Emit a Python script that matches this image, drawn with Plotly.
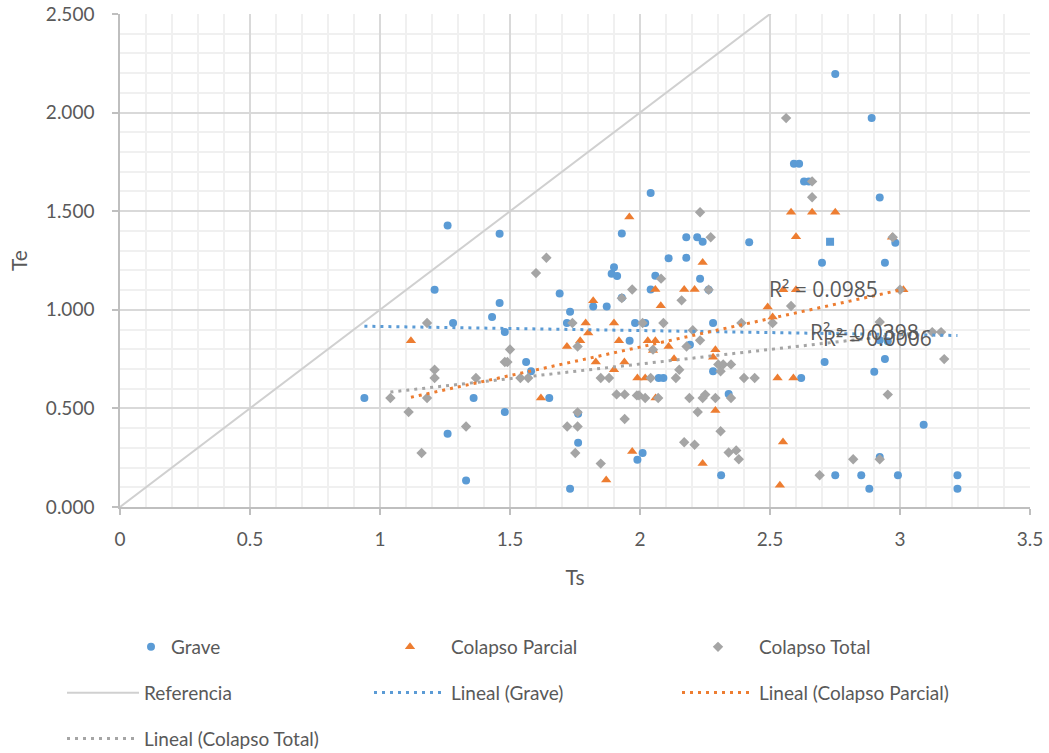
import plotly.graph_objects as go

# ---------------- data ----------------
grave_x = [0.940, 1.210, 1.260, 1.260, 1.281, 1.331, 1.360, 1.431, 1.460, 1.460,
           1.480, 1.480, 1.562, 1.581, 1.651, 1.691, 1.719, 1.731, 1.731, 1.762,
           1.762, 1.820, 1.872, 1.891, 1.900, 1.912, 1.930, 1.930, 1.960, 1.981,
           1.990, 2.010, 2.020, 2.041, 2.041, 2.059, 2.072, 2.090, 2.110, 2.178,
           2.178, 2.192, 2.220, 2.241, 2.231, 2.264, 2.281, 2.281, 2.312, 2.341,
           2.420, 2.592, 2.612, 2.631, 2.649, 2.620, 2.700, 2.710, 2.731, 2.751,
           2.751, 2.851, 2.882, 2.891, 2.901, 2.922, 2.922, 2.953, 2.942, 2.942,
           2.922, 2.982, 2.992, 3.091, 3.221, 3.221]
grave_y = [0.553, 1.102, 1.427, 0.372, 0.933, 0.135, 0.553, 0.963, 1.386, 1.034,
           0.887, 0.482, 0.735, 0.688, 0.553, 1.083, 0.933, 0.990, 0.093, 0.473,
           0.326, 1.017, 1.017, 1.183, 1.216, 1.171, 1.387, 1.061, 0.843, 0.933,
           0.240, 0.274, 0.933, 1.592, 1.103, 1.173, 0.654, 0.654, 1.261, 1.368,
           1.264, 0.823, 1.368, 1.345, 1.158, 1.102, 0.933, 0.688, 0.161, 0.573,
           1.343, 1.740, 1.740, 1.651, 1.651, 0.654, 1.239, 0.735, 1.345, 2.196,
           0.161, 0.161, 0.093, 1.972, 0.686, 1.570, 0.845, 0.841, 1.239, 0.750,
           0.253, 1.340, 0.161, 0.417, 0.161, 0.093]
grave_square_x = 2.731  # the one point drawn as a square marker

parcial_x = [1.119, 1.619, 1.719, 1.770, 1.791, 1.801, 1.820, 1.830, 1.870, 1.900,
             1.900, 1.919, 1.940, 1.959, 1.970, 1.990, 2.020, 2.030, 2.050, 2.059,
             2.059, 2.060, 2.080, 2.110, 2.131, 2.170, 2.210, 2.241, 2.241, 2.281,
             2.290, 2.290, 2.491, 2.510, 2.529, 2.538, 2.550, 2.551, 2.581, 2.590,
             2.600, 2.600, 2.662, 2.751, 2.969, 3.013]
parcial_y = [0.843, 0.553, 0.814, 0.843, 0.933, 0.882, 1.046, 0.735, 0.137, 0.933,
             0.696, 0.843, 0.735, 1.470, 0.282, 0.654, 0.654, 0.843, 0.794, 0.843,
             1.103, 0.553, 1.021, 0.814, 0.752, 1.103, 1.103, 1.240, 0.220, 0.760,
             0.798, 0.489, 1.014, 0.963, 0.654, 0.110, 0.330, 1.102, 1.495, 0.654,
             1.371, 1.102, 1.495, 1.495, 1.368, 1.102]

total_x = [1.040, 1.110, 1.160, 1.181, 1.181, 1.210, 1.210, 1.331, 1.369, 1.480,
           1.490, 1.500, 1.540, 1.570, 1.600, 1.640, 1.720, 1.740, 1.751, 1.760,
           1.760, 1.760, 1.849, 1.849, 1.881, 1.910, 1.930, 1.941, 1.941, 1.970,
           1.988, 1.996, 2.010, 2.020, 2.041, 2.050, 2.070, 2.081, 2.090, 2.138,
           2.151, 2.160, 2.170, 2.179, 2.190, 2.203, 2.210, 2.222, 2.231, 2.231,
           2.241, 2.251, 2.264, 2.272, 2.290, 2.301, 2.310, 2.310, 2.320, 2.341,
           2.350, 2.350, 2.370, 2.380, 2.390, 2.400, 2.441, 2.510, 2.562, 2.581,
           2.662, 2.662, 2.691, 2.820, 2.922, 2.922, 2.953, 2.972, 3.000, 3.124,
           3.158, 3.170]
total_y = [0.553, 0.482, 0.274, 0.933, 0.553, 0.696, 0.654, 0.408, 0.654, 0.735,
           0.735, 0.799, 0.654, 0.654, 1.186, 1.264, 0.408, 0.933, 0.274, 0.814,
           0.480, 0.408, 0.654, 0.220, 0.654, 0.571, 1.059, 0.571, 0.446, 1.103,
           0.566, 0.566, 0.933, 0.553, 0.654, 0.798, 0.553, 1.158, 0.933, 0.654,
           0.696, 1.048, 0.328, 0.814, 0.553, 0.896, 0.316, 0.482, 1.495, 0.845,
           0.553, 0.570, 1.102, 1.368, 0.553, 0.723, 0.688, 0.384, 0.723, 0.276,
           0.723, 0.553, 0.287, 0.242, 0.933, 0.654, 0.654, 0.933, 1.972, 1.019,
           1.651, 1.571, 0.161, 0.242, 0.938, 0.242, 0.570, 1.368, 1.102, 0.887,
           0.887, 0.750]

referencia_x = [0, 3.5]
referencia_y = [0, 3.5]

# linear trend coefficients (slope, intercept) and R²
trend_grave = (-0.0206, 0.936)
trend_parcial = (0.289, 0.233)
trend_total = (0.148, 0.429)
r2_labels = {"grave": "R² = 0.0006", "parcial": "R² = 0.0985", "total": "R² = 0.0398"}

x_ticks = [0, 0.5, 1, 1.5, 2, 2.5, 3, 3.5]
y_ticks = [0, 0.5, 1.0, 1.5, 2.0, 2.5]

# ---------------- styling ----------------
BLUE = "#5b9bd5"
ORANGE = "#ed7d31"
GRAY = "#a5a5a5"
TXT = "#595959"
FONT = "Lato"
LABEL_FONT = "Open Sans"

# plot area in pixels (figure 1049 x 753)
L, R, T, B = 120, 1030, 14, 507
PW, PH = R - L, B - T


def trend(xs, coef):
    lo, hi = min(xs), max(xs)
    return [lo, hi], [coef[0] * lo + coef[1], coef[0] * hi + coef[1]]


def px_to_paper_x(px):
    return (px - L) / PW


def py_to_paper_y(py):
    return (B - py) / PH


fig = go.Figure()

grave_symbols = ["square" if abs(x - grave_square_x) < 1e-9 else "circle" for x in grave_x]
fig.add_trace(go.Scatter(x=grave_x, y=grave_y, mode="markers", name="Grave",
                         marker=dict(color=BLUE, size=8, symbol=grave_symbols),
                         legend="legend4", legendgroup="g1"))
fig.add_trace(go.Scatter(x=parcial_x, y=parcial_y, mode="markers", name="Colapso Parcial",
                         marker=dict(color=ORANGE, size=9, symbol="triangle-up"),
                         legend="legend2", legendgroup="g2"))
fig.add_trace(go.Scatter(x=total_x, y=total_y, mode="markers", name="Colapso Total",
                         marker=dict(color=GRAY, size=8, symbol="diamond"),
                         legend="legend3", legendgroup="g3"))
fig.add_trace(go.Scatter(x=referencia_x, y=referencia_y, mode="lines", name="Referencia",
                         line=dict(color="#d0d0d0", width=2),
                         legend="legend", legendgroup="g4"))

gx, gy = trend(grave_x, trend_grave)
px_, py_ = trend(parcial_x, trend_parcial)
tx, ty = trend(total_x, trend_total)
dot = "3px,5px"
fig.add_trace(go.Scatter(x=gx, y=gy, mode="lines", name="Lineal (Grave)",
                         line=dict(color=BLUE, width=3, dash=dot),
                         legend="legend2", legendgroup="g5"))
fig.add_trace(go.Scatter(x=px_, y=py_, mode="lines", name="Lineal (Colapso Parcial)",
                         line=dict(color=ORANGE, width=3, dash=dot),
                         legend="legend3", legendgroup="g6"))
fig.add_trace(go.Scatter(x=tx, y=ty, mode="lines", name="Lineal (Colapso Total)",
                         line=dict(color=GRAY, width=3, dash=dot),
                         legend="legend", legendgroup="g7"))

# R² labels
fig.add_annotation(x=2.704, y=1.103, text=r2_labels["parcial"], showarrow=False,
                   font=dict(family=LABEL_FONT, size=21, color=TXT))
fig.add_annotation(x=2.865, y=0.887, text=r2_labels["total"], showarrow=False,
                   font=dict(family=LABEL_FONT, size=21, color=TXT))
fig.add_annotation(x=2.912, y=0.859, text=r2_labels["grave"], showarrow=False,
                   font=dict(family=LABEL_FONT, size=21, color=TXT))

axis_common = dict(
    showline=True, linecolor="#bfbfbf", linewidth=1.5, mirror=False,
    showgrid=True, gridcolor="#d9d9d9", gridwidth=1.5, zeroline=False,
    ticks="outside", ticklen=6, tickcolor="#bfbfbf", tickwidth=1.5,
    tickfont=dict(family=FONT, size=19, color=TXT), automargin=False,
)

fig.update_xaxes(range=[0, 3.5], tickvals=x_ticks, ticktext=[f"{v:g}" for v in x_ticks],
                 minor=dict(dtick=0.1, showgrid=True, gridcolor="#f0f0f0", gridwidth=1.5, ticks=""),
                 title=dict(text="Ts", font=dict(family=FONT, size=21, color=TXT), standoff=22),
                 ticklabelstandoff=8, **axis_common)
fig.update_yaxes(range=[0, 2.5], tickvals=y_ticks, ticktext=[f"{v:.3f}" for v in y_ticks],
                 minor=dict(dtick=0.1, showgrid=True, gridcolor="#f0f0f0", gridwidth=1.5, ticks=""),
                 title=dict(text="Te", font=dict(family=FONT, size=21, color=TXT), standoff=13),
                 ticklabelstandoff=14, **axis_common)

leg_common = dict(orientation="v", xanchor="left", yanchor="top",
                  font=dict(family=FONT, size=19, color=TXT), bgcolor="rgba(0,0,0,0)",
                  tracegroupgap=18, traceorder="grouped", itemclick=False)
row1_top = py_to_paper_y(628)
row2_top = py_to_paper_y(628 + 46)
fig.update_layout(
    width=1049, height=753,
    margin=dict(l=L, r=1049 - R, t=T, b=753 - B, autoexpand=False),
    paper_bgcolor="white", plot_bgcolor="white",
    showlegend=True,
    legend4=dict(x=px_to_paper_x(131), y=row1_top, itemwidth=30, **leg_common),
    legend=dict(x=px_to_paper_x(62), y=row2_top, itemwidth=72, **leg_common),
    legend2=dict(x=px_to_paper_x(369), y=row1_top, itemwidth=72, **leg_common),
    legend3=dict(x=px_to_paper_x(677), y=row1_top, itemwidth=72, **leg_common),
)

fig.write_html("out.html", config={"displayModeBar": False},
               post_script="document.body.style.margin='0px';")
